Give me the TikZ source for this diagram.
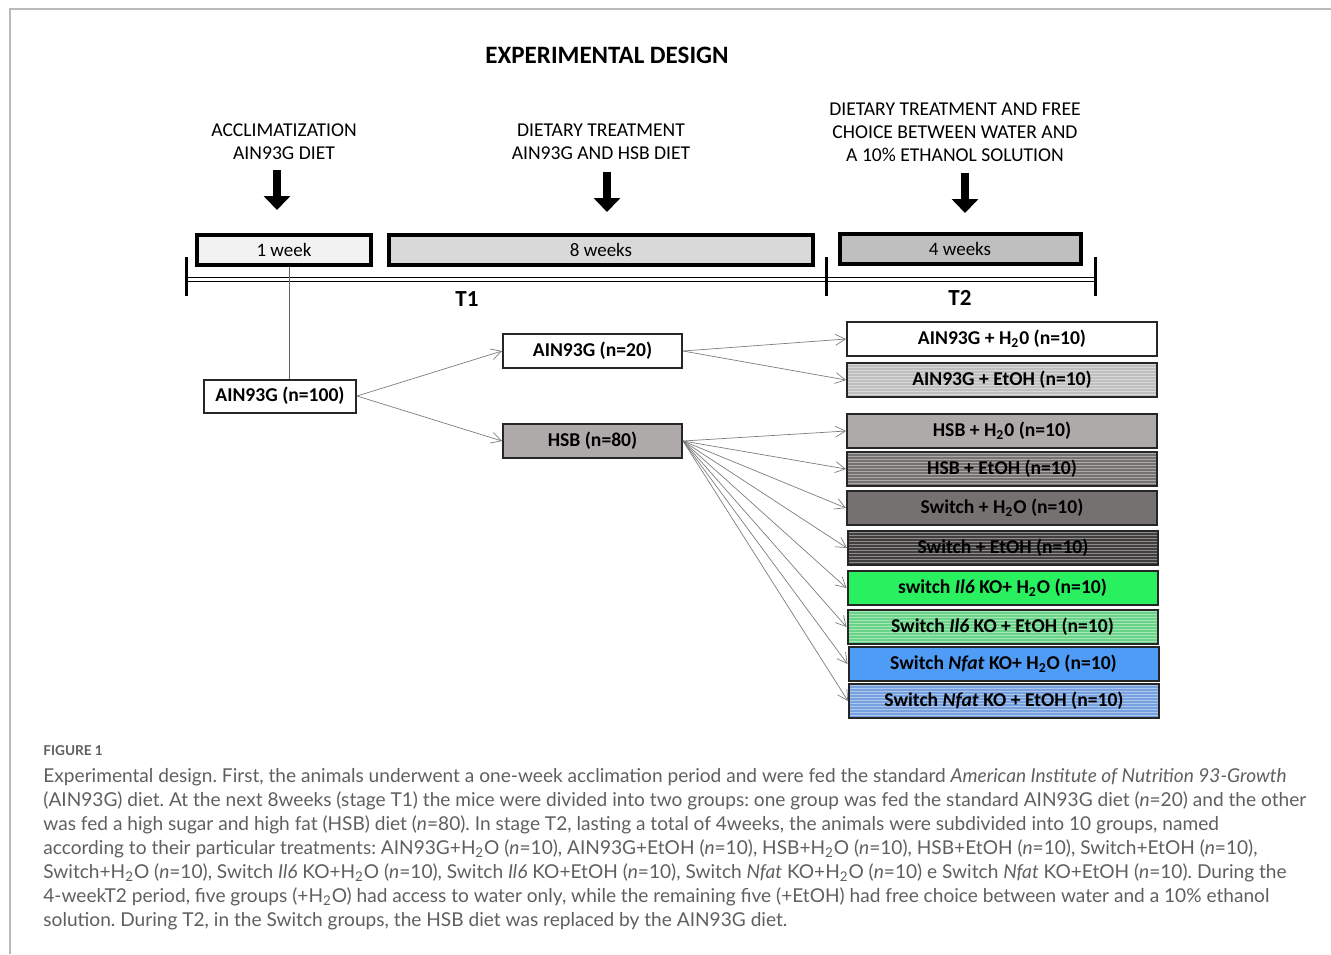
\documentclass[tikz,border=0pt]{standalone}
\usepackage{fontspec}
\setmainfont{Carlito}
\newfontfamily\capfont{Lato}
\usetikzlibrary{positioning, arrows.meta, calc}
\definecolor{framegray}{RGB}{185,185,185}
\definecolor{weekone}{RGB}{242,242,242}
\definecolor{weekeight}{RGB}{217,217,217}
\definecolor{weekfour}{RGB}{191,191,191}
\definecolor{hsbgray}{RGB}{174,170,170}
\definecolor{switchgray}{RGB}{118,113,113}
\definecolor{switchdark}{RGB}{66,63,63}
\definecolor{ilgreen}{RGB}{40,240,95}
\definecolor{ilgreenpale}{RGB}{105,212,135}
\definecolor{nfatblue}{RGB}{78,156,245}
\definecolor{nfatbluepale}{RGB}{118,160,222}
\definecolor{captiongray}{RGB}{95,95,95}
\definecolor{linkgray}{RGB}{125,125,125}

\tikzset{
  weekbox/.style={draw=black, line width=2pt, minimum height=15pt, inner sep=0pt,
    font=\fontsize{9.5}{11}\selectfont},
  groupbox/.style={draw=black!85, line width=1pt, minimum height=17pt, inner sep=0pt,
    font=\bfseries\fontsize{9.8}{11}\selectfont},
  rightbox/.style={groupbox, minimum width=155pt},
  striped/.style={fill=#1, path picture={
      \foreach \k in {0,...,11}
        \draw[#1!60!white, line width=0.55pt]
          ($(path picture bounding box.north west)+(0pt,-0.75pt-\k*1.5pt)$) --
          ($(path picture bounding box.north east)+(0pt,-0.75pt-\k*1.5pt)$);
    }},
  link/.style={draw=linkgray, line width=0.35pt, -{Straight Barb[length=5pt, width=5.5pt]}},
  bigarrow/.style={-{Triangle[length=7pt, width=13pt]}, line width=4pt},
  phase/.style={align=center, font=\fontsize{9.8}{11.6}\selectfont},
}

\begin{document}
\frenchspacing
\begin{tikzpicture}[x=0.5pt, y=-0.5pt]
  \useasboundingbox (0,0) rectangle (1331,954);
  % figure frame
  \draw[framegray, line width=0.7pt] (10,954) -- (10,9) -- (1331,9);

  \node[font=\bfseries\fontsize{12.5}{14}\selectfont] (title) at (607,55) {EXPERIMENTAL DESIGN};

  % phases
  \node[phase] (accl) at (284,141.5) {ACCLIMATIZATION\\AIN93G DIET};
  \node[phase] (diet) at (601,141.5) {DIETARY TREATMENT\\AIN93G AND HSB DIET};
  \node[phase] (choice) at (955,132) {DIETARY TREATMENT AND FREE\\CHOICE BETWEEN WATER AND\\A 10\% ETHANOL SOLUTION};
  \coordinate (a1) at (277,170);
  \coordinate (a2) at (607,172);
  \coordinate (a3) at (965,173);
  \draw[bigarrow] (a1) -- ++(0,40);
  \draw[bigarrow] (a2) -- ++(0,40);
  \draw[bigarrow] (a3) -- ++(0,40);

  % weeks
  \node[weekbox, fill=weekone, minimum width=87pt] (week1) at (284,249.5) {1 week};
  \node[weekbox, fill=weekeight, minimum width=212pt] (week8) at (601,250) {8 weeks};
  \node[weekbox, fill=weekfour, minimum width=120.5pt] (week4) at (960,249) {4 weeks};

  % time line
  \coordinate (t0) at (186,277);
  \coordinate (t1) at (826,277);
  \coordinate (t2) at (1095,277);
  \draw[line width=0.5pt] (186,277) -- (1095,277);
  \draw[line width=0.5pt] (186,281) -- (1095,281);
  \foreach \t in {t0,t1,t2}
    \draw[line width=1.5pt] ($(\t)+(0,-20)$) -- ($(\t)+(0,19)$);
  \node[font=\bfseries\fontsize{11.5}{13}\selectfont] (T1) at (467,299) {T1};
  \node[font=\bfseries\fontsize{11.5}{13}\selectfont] (T2) at (960,298) {T2};

  % groups T1
  \node[groupbox, fill=white, minimum width=76pt, minimum height=16.5pt] (all) at (280,396) {AIN93G (n=100)};
  \node[groupbox, fill=white, minimum width=89.5pt] (ain) at (592.5,351) {AIN93G (n=20)};
  \node[groupbox, fill=hsbgray, minimum width=89.5pt] (hsb) at (592.5,441) {HSB (n=80)};
  \coordinate (drop) at (289,0);
  \draw[linkgray!80!black, line width=0.5pt] (week1.south -| drop) -- (all.north -| drop);
  \draw[link] (all.east) -- (ain.west);
  \draw[link] (all.east) -- (hsb.west);

  % groups T2
  \node[rightbox, fill=white] (g1) at (1002,339) {AIN93G + H\textsubscript{2}0 (n=10)};
  \node[rightbox, striped=weekfour] (g2) at (1002,380) {AIN93G + EtOH (n=10)};
  \node[rightbox, fill=hsbgray] (g3) at (1002,431) {HSB + H\textsubscript{2}0 (n=10)};
  \node[rightbox, striped=switchgray] (g4) at (1002,469) {HSB + EtOH (n=10)};
  \node[rightbox, fill=switchgray] (g5) at (1002,508) {Switch + H\textsubscript{2}O (n=10)};
  \node[rightbox, striped=switchdark] (g6) at (1003,548) {Switch + EtOH (n=10)};
  \node[rightbox, fill=ilgreen] (g7) at (1002.5,588) {switch \textit{Il6} KO+ H\textsubscript{2}O (n=10)};
  \node[rightbox, striped=ilgreenpale] (g8) at (1002.5,627) {Switch \textit{Il6} KO + EtOH (n=10)};
  \node[rightbox, fill=nfatblue] (g9) at (1003.5,664) {Switch \textit{Nfat} KO+ H\textsubscript{2}O (n=10)};
  \node[rightbox, striped=nfatbluepale] (g10) at (1004,701) {Switch \textit{Nfat} KO + EtOH (n=10)};

  \draw[link] (ain.east) -- (g1.west);
  \draw[link] (ain.east) -- (g2.west);
  \foreach \g in {g3,g4,g5,g6,g7,g8,g9,g10}
    \draw[link] (hsb.east) -- (\g.west);

  % caption
  \node[anchor=west, inner sep=0pt, text=captiongray, font=\capfont\bfseries\fontsize{6.8}{8}\selectfont] (fig) at (43,751) {FIGURE 1};
  \node[anchor=north west, align=left, inner sep=0pt, text=captiongray,
    font=\capfont\fontsize{9.55}{12}\selectfont] (caption) at (43,768) {%
    Experimental design. First, the animals underwent a one-week acclimation period and were fed the standard \textit{American Institute of Nutrition 93-Growth}\\
    (AIN93G) diet. At the next 8weeks (stage T1) the mice were divided into two groups: one group was fed the standard AIN93G diet (\textit{n}=20) and the other\\
    was fed a high sugar and high fat (HSB) diet (\textit{n}=80). In stage T2, lasting a total of 4weeks, the animals were subdivided into 10 groups, named\\
    according to their particular treatments: AIN93G+H\textsubscript{2}O (\textit{n}=10), AIN93G+EtOH (\textit{n}=10), HSB+H\textsubscript{2}O (\textit{n}=10), HSB+EtOH (\textit{n}=10), Switch+EtOH (\textit{n}=10),\\
    Switch+H\textsubscript{2}O (\textit{n}=10), Switch \textit{Il6} KO+H\textsubscript{2}O (\textit{n}=10), Switch \textit{Il6} KO+EtOH (\textit{n}=10), Switch \textit{Nfat} KO+H\textsubscript{2}O (\textit{n}=10) e Switch \textit{Nfat} KO+EtOH (\textit{n}=10). During the\\
    4-weekT2 period, five groups (+H\textsubscript{2}O) had access to water only, while the remaining five (+EtOH) had free choice between water and a 10\% ethanol\\
    solution. During T2, in the Switch groups, the HSB diet was replaced by the AIN93G diet.};
\end{tikzpicture}
\end{document}
